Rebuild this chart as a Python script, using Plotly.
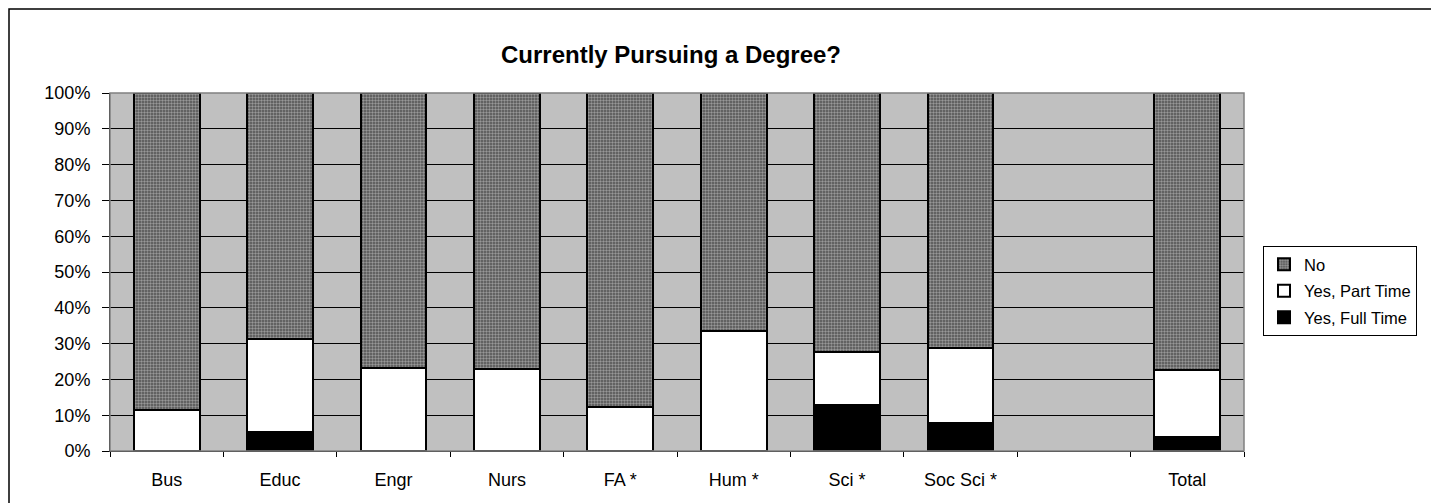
import plotly.graph_objects as go

categories = ["Bus", "Educ", "Engr", "Nurs", "FA *", "Hum *", "Sci *", "Soc Sci *", " ", "Total"]
full_time = [0.0, 5.3, 0.0, 0.0, 0.0, 0.0, 12.8, 7.9, None, 3.8]
part_time = [11.5, 26.0, 23.1, 23.0, 12.2, 33.6, 14.8, 20.8, None, 18.9]
no_pct = [88.5, 68.7, 76.9, 77.0, 87.8, 66.4, 72.4, 71.3, None, 77.3]
y_ticks = [0, 10, 20, 30, 40, 50, 60, 70, 80, 90, 100]

FONT = "Liberation Sans, Arial, sans-serif"
line = dict(color="black", width=2)

W, H = 1431, 495
L, R, T, B = 102, 195, 85, 52
PW, PH = W - L - R, H - T - B

fig = go.Figure()
fig.add_trace(go.Bar(name="Yes, Full Time", x=categories, y=full_time, legendgroup="c", legendrank=3,
                     marker=dict(color="black", line=line)))
fig.add_trace(go.Bar(name="Yes, Part Time", x=categories, y=part_time, legendgroup="b", legendrank=2,
                     marker=dict(color="white", line=line)))
fig.add_trace(go.Bar(name="No", x=categories, y=no_pct, legendgroup="a", legendrank=1,
                     marker=dict(color="#505050", line=line,
                                 pattern=dict(shape=".", fgcolor="#e0e0e0", bgcolor="#505050",
                                              size=3, solidity=0.5))))

fig.update_layout(
    barmode="stack",
    bargap=0.42,
    width=W, height=H,
    margin=dict(l=L, r=R, t=T, b=B),
    paper_bgcolor="white",
    plot_bgcolor="#C0C0C0",
    font=dict(family=FONT, size=18, color="black"),
    title=dict(text="<b>Currently Pursuing a Degree?</b>", x=663 / W, xanchor="center",
               y=1 - 47 / H, yanchor="middle", font=dict(size=24, family=FONT)),
    showlegend=True,
    legend=dict(x=(1255 - L) / PW, xanchor="left", y=(H - B - 238) / PH, yanchor="top",
                bordercolor="black", borderwidth=1, bgcolor="white",
                font=dict(size=16.5, family=FONT), traceorder="grouped",
                tracegroupgap=2, itemwidth=30),
    xaxis=dict(type="category", categoryorder="array", categoryarray=categories,
               tickson="boundaries", ticks="outside", ticklen=5, tickcolor="black",
               showline=True, linecolor="black", linewidth=1, showgrid=False,
               tickfont=dict(size=18), ticklabelstandoff=12,
               range=[-0.5, len(categories) - 0.5]),
    yaxis=dict(range=[0, 100], tickvals=y_ticks, ticktext=[f"{v}%" for v in y_ticks],
               ticks="outside", ticklen=7, tickcolor="black",
               showline=True, linecolor="black", linewidth=1,
               showgrid=True, gridcolor="black", gridwidth=1,
               tickfont=dict(size=18), ticklabelstandoff=8, zeroline=False),
)

# plot-area border and outer chart border
fig.add_shape(type="rect", xref="paper", yref="paper", x0=0, x1=1, y0=0, y1=1,
              line=dict(color="#808080", width=1.5), layer="above")
fig.add_shape(type="rect", xref="paper", yref="paper",
              x0=-(L - 1) / PW, x1=(1425 - L) / PW, y0=-(B + 20) / PH, y1=(H - B - 1) / PH,
              line=dict(color="black", width=1.5))

fig.write_html("out.html")
